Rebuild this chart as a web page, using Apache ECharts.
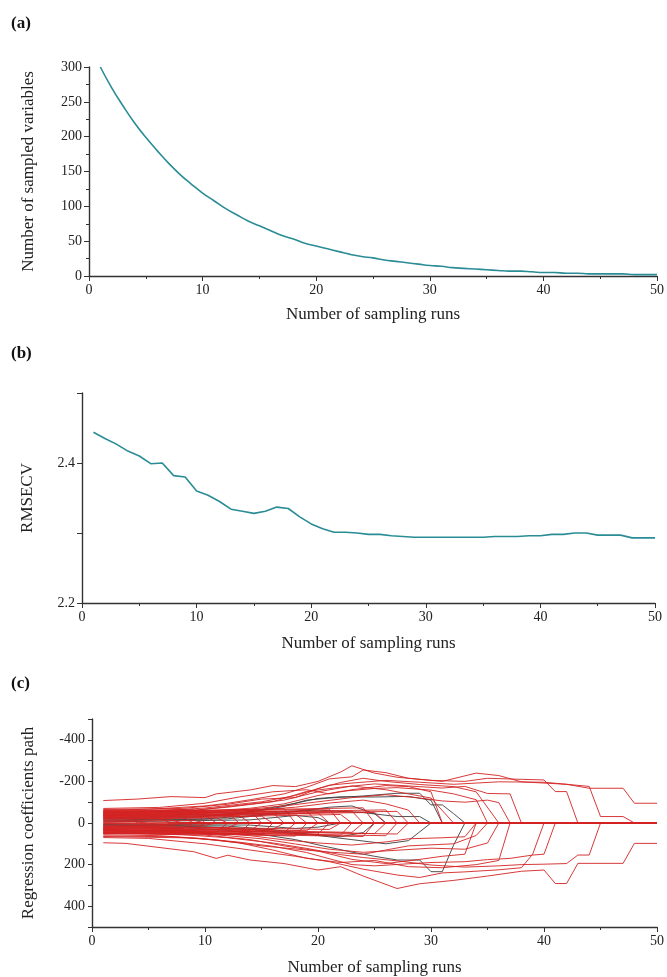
<!DOCTYPE html>
<html>
<head>
<meta charset="utf-8">
<script src="https://cdn.jsdelivr.net/npm/echarts@6/dist/echarts.min.js"></script>
<style>
html,body{margin:0;padding:0;background:#fff;}
#chart{width:667px;height:977px;}
</style>
</head>
<body>
<div id="chart"></div>
<script>
// ---------- Panel (a): number of sampled variables ----------
const runs = Array.from({length: 50}, (_, i) => i + 1);
const sampledVars = [300,270,244,220,199,180,162,146,132,119,108,97,88,79,72,65,58,53,47,43,
  39,35,31,28,26,23,21,19,17,15,14,12,11,10,9,8,7,7,6,5,5,4,4,3,3,3,3,2,2,2];

// ---------- Panel (b): RMSECV ----------
const rmsecv = [2.444,2.435,2.427,2.417,2.410,2.399,2.400,2.382,2.380,2.360,
  2.354,2.345,2.334,2.331,2.328,2.331,2.337,2.335,2.323,2.313,
  2.306,2.301,2.301,2.300,2.298,2.298,2.296,2.295,2.294,2.294,
  2.294,2.294,2.294,2.294,2.294,2.295,2.295,2.295,2.296,2.296,
  2.298,2.298,2.300,2.300,2.297,2.297,2.297,2.293,2.293,2.293];

// ---------- Panel (c): regression coefficient paths ([run, coefficient]) ----------
const outerPaths = [
  [[1,-108],[4,-115],[7,-127],[10,-122],[11,-140],[14,-159],[16,-180],[18,-175],[20,-200],[22,-245],[23,-275],[25,-240],[27,-220],[30,-205],[33,-200],[35,-215],[38,-210],[40,-207],[41,-151],[42,-151],[43,0]],
  [[1,-62],[5,-66],[10,-82],[12,-95],[14,-112],[17,-140],[19,-172],[21,-212],[23,-222],[24,-255],[26,-242],[28,-215],[31,-200],[34,-240],[36,-228],[38,-198],[40,-192],[42,-186],[44,-167],[47,-167],[48,-95],[50,-95]],
  [[1,-55],[6,-58],[10,-72],[15,-102],[18,-132],[21,-182],[23,-192],[26,-205],[29,-196],[32,-186],[34,-192],[36,-198],[40,-196],[44,-176],[45,-31],[47,-31],[48,0]],
  [[1,-47],[8,-57],[12,-76],[16,-102],[19,-152],[22,-172],[25,-188],[28,-178],[31,-168],[33,-176],[35,-142],[37,-140],[38,0]],
  [[1,-42],[10,-56],[14,-71],[17,-92],[20,-132],[22,-152],[25,-166],[27,-170],[30,-158],[32,-140],[34,-112],[35,0]],
  [[1,-36],[9,-46],[13,-62],[17,-82],[20,-102],[23,-122],[26,-136],[29,-120],[31,-106],[33,-100],[35,-110],[36,-98],[37,0]],
  [[1,-31],[8,-39],[13,-56],[18,-76],[21,-96],[24,-110],[26,-92],[28,-62],[29,0]],
  [[1,-70],[6,-75],[10,-95],[13,-125],[16,-150],[19,-160],[21,-140],[23,-160],[26,-180],[28,-175],[30,-150],[31,0]],
  [[1,-65],[8,-70],[12,-90],[15,-115],[18,-122],[20,-165],[22,-195],[24,-215],[26,-200],[29,-185],[32,-175],[34,-150],[36,0]],
  [[1,-52],[9,-60],[13,-85],[17,-110],[20,-150],[23,-178],[26,-160],[28,-140],[30,-120],[32,0]],
  [[1,56],[6,61],[10,76],[13,92],[16,112],[19,142],[21,172],[23,200],[25,206],[28,196],[30,190],[33,186],[35,176],[37,170],[39,154],[40,150],[41,0]],
  [[1,46],[8,56],[12,71],[16,96],[19,122],[22,152],[24,166],[27,182],[30,202],[33,212],[36,206],[38,200],[40,198],[42,195],[43,154],[44,154],[45,0]],
  [[1,36],[7,43],[12,61],[15,76],[18,101],[21,126],[24,141],[27,131],[30,121],[33,126],[35,96],[36,0]],
  [[1,31],[9,41],[14,61],[17,81],[20,96],[23,106],[26,91],[28,76],[31,71],[33,66],[34,0]],
  [[1,95],[3,98],[9,138],[11,170],[12,155],[14,178],[17,195],[20,226],[22,210],[24,255],[27,315],[29,292],[32,276],[35,255],[38,232],[40,226],[41,291],[42,291],[43,194],[47,194],[48,98],[50,98]],
  [[1,70],[5,74],[10,100],[14,130],[18,160],[21,186],[24,222],[27,250],[29,262],[31,240],[33,235],[36,225],[38,215],[39,150],[40,0]],
  [[1,62],[7,66],[11,82],[15,110],[18,125],[21,140],[24,150],[26,130],[28,110],[30,105],[32,100],[34,60],[35,0]],
  [[1,65],[9,72],[13,95],[16,130],[19,170],[22,190],[25,180],[28,210],[31,215],[34,200],[36,180],[37,0]],
  [[1,50],[10,58],[14,80],[17,110],[20,135],[23,175],[26,195],[29,175],[31,160],[33,150],[34,0]]
];

const bandPaths = [
  [[1,-12],[4,-13],[7,-15],[8,0]], [[1,10],[4,12],[7,13],[8,0]],
  [[1,-25],[5,-26],[8,-29],[9,0]], [[1,22],[5,24],[8,26],[9,0]],
  [[1,-6],[5,-9],[9,-13],[10,0]], [[1,28],[5,30],[9,34],[10,0]],
  [[1,-33],[6,-35],[10,-39],[11,0]], [[1,4],[6,7],[10,11],[11,0]],
  [[1,-18],[6,-21],[11,-25],[12,0]], [[1,35],[6,37],[11,43],[12,0]],
  [[1,-42],[7,-45],[12,-51],[13,0]], [[1,16],[7,18],[12,23],[13,0]],
  [[1,-28],[7,-31],[13,-37],[14,0]], [[1,40],[7,44],[13,51],[14,0]],
  [[1,-50],[8,-53],[14,-61],[15,0]], [[1,26],[8,29],[14,36],[15,0]],
  [[1,-22],[8,-25],[15,-33],[16,0]], [[1,44],[8,48],[15,57],[16,0]],
  [[1,-38],[9,-41],[16,-49],[17,0]], [[1,20],[9,23],[16,31],[17,0]],
  [[1,-55],[9,-59],[17,-69],[18,0]], [[1,32],[9,36],[17,46],[18,0]],
  [[1,-30],[10,-34],[18,-43],[19,0]], [[1,48],[10,52],[18,63],[19,0]],
  [[1,-46],[10,-50],[19,-59],[20,0]], [[1,24],[10,28],[19,37],[20,0]],
  [[1,-35],[11,-40],[20,-49],[21,0]], [[1,38],[11,43],[20,53],[21,0]],
  [[1,-52],[11,-57],[21,-67],[22,0]], [[1,18],[11,22],[21,31],[22,0]],
  [[1,-26],[12,-31],[22,-41],[23,0]], [[1,42],[12,47],[22,59],[23,0]],
  [[1,-44],[12,-49],[23,-57],[24,0]], [[1,28],[12,33],[23,45],[24,0]],
  [[1,-58],[13,-63],[24,-73],[25,0]], [[1,50],[13,55],[24,65],[25,0]],
  [[1,-36],[13,-41],[25,-51],[26,0]], [[1,34],[13,39],[25,51],[26,0]],
  [[1,-48],[14,-53],[26,-63],[27,0]], [[1,46],[14,51],[26,61],[27,0]],
  [[1,-40],[14,-45],[27,-56],[28,0]], [[1,36],[14,41],[27,53],[28,0]],
  [[1,-3],[4,-4],[5,0]], [[1,2],[5,3],[6,0]], [[1,-20],[6,-21],[7,0]],
  [[1,15],[6,17],[7,0]], [[1,-38],[3,-39],[4,0]], [[1,-60],[5,-62],[9,-66],[10,0]]
];

const grayPaths = [
  [[1,-20],[8,-25],[12,-40],[15,-60],[17,-80],[19,-110],[21,-120],[24,-130],[27,-143],[29,-143],[30,-87],[31,-87],[32,-45],[33,0]],
  [[1,15],[8,22],[12,35],[15,55],[18,80],[20,105],[23,140],[25,160],[27,178],[29,178],[30,234],[31,234],[32,106],[33,0]],
  [[1,-15],[10,-20],[14,-35],[17,-55],[20,-62],[24,-50],[27,-31],[29,-31],[30,0]],
  [[1,10],[10,18],[14,30],[17,45],[20,60],[23,80],[26,100],[28,85],[30,0]],
  [[1,-10],[12,-20],[16,-42],[19,-62],[21,-76],[23,-82],[25,-45],[26,0]],
  [[1,8],[12,15],[16,32],[19,52],[22,66],[24,46],[25,0]],
  [[1,-5],[14,-15],[18,-36],[20,-26],[21,0]],
  [[1,5],[14,10],[18,26],[20,20],[22,0]],
  [[1,-25],[10,-35],[14,-55],[18,-95],[20,-118],[22,-126],[25,-125],[28,-128],[30,-110],[31,0]]
];

// axis tick settings
const runTicks = {min: 0, max: 50, interval: 10};
const varTicks = {min: 0, max: 300, interval: 50};
const rmseTicks = {min: 2.2, max: 2.5, interval: 0.1, labels: [2.2, 2.4]};
const coefTicks = {min: -500, max: 500, interval: 100, labels: [-400, -200, 0, 200, 400]};

const FONT = "'Liberation Serif','Times New Roman',serif";
const TEAL = '#2a8c95';
const RED = '#d42222';
const GRAY = '#3c3c3c';

const chart = echarts.init(document.getElementById('chart'), null, {renderer: 'canvas'});

function xAx(grid, gap) {
  return {
    type: 'value', gridIndex: grid, min: runTicks.min, max: runTicks.max, interval: runTicks.interval,
    name: 'Number of sampling runs', nameLocation: 'middle', nameGap: gap,
    nameTextStyle: {fontFamily: FONT, fontSize: 17, color: '#222'},
    axisLine: {show: true, onZero: false, lineStyle: {color: '#333', width: 1.4}},
    axisTick: {show: true, length: 5, lineStyle: {color: '#333'}},
    minorTick: {show: true, splitNumber: 2, length: 3, lineStyle: {color: '#333'}},
    axisLabel: {fontFamily: FONT, fontSize: 14, color: '#222', margin: 7},
    splitLine: {show: false}
  };
}

function padPath(p) {
  const d = p.slice();
  if (d[d.length - 1][0] < 50) d.push([50, 0]);
  return d;
}

const series = [];
series.push({type: 'line', xAxisIndex: 0, yAxisIndex: 0, data: runs.map((r, i) => [r, sampledVars[i]]),
  showSymbol: false, symbol: 'none', smooth: true, lineStyle: {color: TEAL, width: 1.6}, silent: true});
series.push({type: 'line', xAxisIndex: 1, yAxisIndex: 1, data: runs.map((r, i) => [r, rmsecv[i]]),
  showSymbol: false, symbol: 'none', lineStyle: {color: TEAL, width: 1.6}, silent: true});
// gray paths first (drawn beneath the red ones); they stop where the coefficient reaches zero
grayPaths.forEach(p => series.push({type: 'line', xAxisIndex: 2, yAxisIndex: 2, data: p,
  symbol: 'none', lineStyle: {color: GRAY, width: 0.9}, silent: true}));
bandPaths.forEach(p => series.push({type: 'line', xAxisIndex: 2, yAxisIndex: 2, data: padPath(p),
  symbol: 'none', lineStyle: {color: RED, width: 0.9}, silent: true}));
outerPaths.forEach(p => series.push({type: 'line', xAxisIndex: 2, yAxisIndex: 2, data: padPath(p),
  symbol: 'none', lineStyle: {color: RED, width: 0.9}, silent: true}));

const option = {
  animation: false,
  backgroundColor: '#fff',
  graphic: [
    {type: 'text', left: 11, top: 15, style: {text: '(a)', font: "bold 17px 'Liberation Serif', serif", fill: '#111'}},
    {type: 'text', left: 11, top: 345, style: {text: '(b)', font: "bold 17px 'Liberation Serif', serif", fill: '#111'}},
    {type: 'text', left: 11, top: 675, style: {text: '(c)', font: "bold 17px 'Liberation Serif', serif", fill: '#111'}}
  ],
  grid: [
    {left: 89, right: 9, top: 67, height: 209},
    {left: 82, right: 12, top: 393, height: 210},
    {left: 92, right: 9, top: 719, height: 208}
  ],
  xAxis: [xAx(0, 30), xAx(1, 32), xAx(2, 32)],
  yAxis: [
    {
      type: 'value', gridIndex: 0, min: varTicks.min, max: varTicks.max, interval: varTicks.interval,
      name: 'Number of sampled variables', nameLocation: 'middle', nameGap: 52,
      nameTextStyle: {fontFamily: FONT, fontSize: 17, color: '#222'},
      axisLine: {show: true, lineStyle: {color: '#333', width: 1.4}},
      axisTick: {show: true, length: 5, lineStyle: {color: '#333'}},
      minorTick: {show: true, splitNumber: 2, length: 3, lineStyle: {color: '#333'}},
      axisLabel: {fontFamily: FONT, fontSize: 14, color: '#222', margin: 7},
      splitLine: {show: false}
    },
    {
      type: 'value', gridIndex: 1, min: rmseTicks.min, max: rmseTicks.max, interval: rmseTicks.interval,
      name: 'RMSECV', nameLocation: 'middle', nameGap: 46,
      nameTextStyle: {fontFamily: FONT, fontSize: 17, color: '#222'},
      axisLine: {show: true, lineStyle: {color: '#333', width: 1.4}},
      axisTick: {show: true, length: 5, lineStyle: {color: '#333'}},
      axisLabel: {fontFamily: FONT, fontSize: 14, color: '#222', margin: 7,
        formatter: v => {
          const r = Math.round(v * 10) / 10;
          return rmseTicks.labels.some(l => Math.abs(l - r) < 1e-6) && Math.abs(v - r) < 1e-6 ? r.toFixed(1) : '';
        }},
      splitLine: {show: false}
    },
    {
      type: 'value', gridIndex: 2, min: coefTicks.min, max: coefTicks.max, interval: coefTicks.interval, inverse: true,
      name: 'Regression coefficients path', nameLocation: 'middle', nameGap: 55,
      nameTextStyle: {fontFamily: FONT, fontSize: 17, color: '#222'},
      axisLine: {show: true, onZero: false, lineStyle: {color: '#333', width: 1.4}},
      axisTick: {show: true, length: 4, lineStyle: {color: '#333'}},
      axisLabel: {fontFamily: FONT, fontSize: 14, color: '#222', margin: 7,
        formatter: v => coefTicks.labels.indexOf(Math.round(v)) >= 0 ? String(Math.round(v)) : ''},
      splitLine: {show: false}
    }
  ],
  series: series
};
chart.setOption(option);
</script>
</body>
</html>
